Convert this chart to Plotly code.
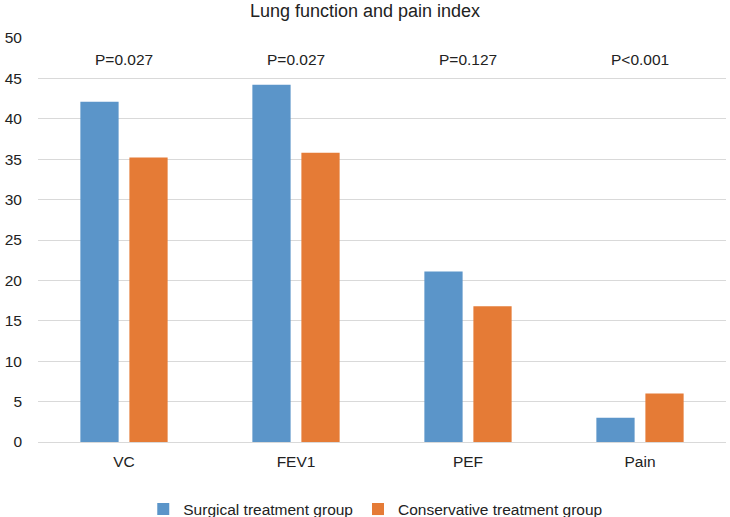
import plotly.graph_objects as go

categories = ["VC", "FEV1", "PEF", "Pain"]
surgical = [42.1, 44.2, 21.1, 3.0]
conservative = [35.2, 35.8, 16.8, 6.0]
p_values = ["P=0.027", "P=0.027", "P=0.127", "P<0.001"]
p_label_y = 47.3
series_names = ["Surgical treatment group", "Conservative treatment group"]
y_ticks = [0, 5, 10, 15, 20, 25, 30, 35, 40, 45, 50]

FONT = "Liberation Sans, Arial, Helvetica, sans-serif"

fig = go.Figure()
fig.add_trace(go.Bar(x=categories, y=surgical, name=series_names[0],
                     marker=dict(color="#5B95C9", line=dict(width=0))))
fig.add_trace(go.Bar(x=categories, y=conservative, name=series_names[1],
                     marker=dict(color="#E57B36", line=dict(width=0))))

for c, p in zip(categories, p_values):
    fig.add_annotation(x=c, y=p_label_y, text=p, showarrow=False,
                       xref="x", yref="y", yanchor="middle",
                       font=dict(size=15.5, color="#222", family=FONT))

fig.update_layout(
    width=730, height=517,
    margin=dict(l=38, r=4, t=38, b=75, autoexpand=False),
    paper_bgcolor="white", plot_bgcolor="white",
    barmode="group", bargap=0.43, bargroupgap=0.22,
    title=dict(text="Lung function and pain index", x=0.5, xanchor="center",
               y=0.979, yanchor="middle",
               font=dict(size=18, color="#222", family=FONT)),
    font=dict(family=FONT, color="#222"),
    showlegend=True,
    legend=dict(orientation="h", x=0.153, xanchor="left", y=-0.167, yanchor="middle",
                font=dict(size=15.5, color="#222", family=FONT),
                itemwidth=30, tracegroupgap=0),
)
fig.update_xaxes(showgrid=False, showline=False, ticks="",
                 tickfont=dict(size=15.5, color="#222"), ticklabelstandoff=8)
fig.update_yaxes(range=[0, 50], tickvals=y_ticks, showgrid=True,
                 gridcolor="#D9D9D9", gridwidth=1, zeroline=True,
                 zerolinecolor="#D9D9D9", zerolinewidth=1, showline=False,
                 tickfont=dict(size=15.5, color="#222"), ticklabelstandoff=15)

fig.write_html("out.html", config={"displayModeBar": False},
               post_script="document.body.style.margin='0';")
